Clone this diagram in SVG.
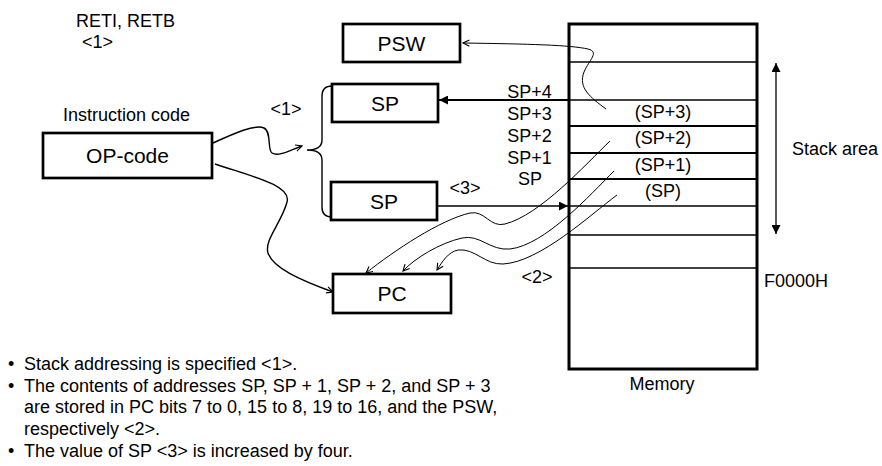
<svg xmlns="http://www.w3.org/2000/svg" width="882" height="466" viewBox="0 0 882 466">
<style>
text{font-family:"Liberation Sans",Arial,sans-serif;fill:#000}
.t{font-size:18px}
.b{font-size:21px}
.box{fill:#fff;stroke:#000;stroke-width:2.7}
.thin{stroke:#000;stroke-width:1.3;fill:none}
.thick{stroke:#000;stroke-width:2.2;fill:none}
.w{stroke:#000;stroke-width:1;fill:none}
.c{stroke:#000;stroke-width:1.4;fill:none}
</style>
<defs>
<marker id="fa" viewBox="0 0 10 10" refX="10" refY="5" markerWidth="10" markerHeight="9" markerUnits="userSpaceOnUse" orient="auto-start-reverse"><path d="M0,0 L10,5 L0,10 z" fill="#000"/></marker>
<marker id="oa" viewBox="0 0 10 10" refX="9" refY="5" markerWidth="8" markerHeight="8" markerUnits="userSpaceOnUse" orient="auto"><path d="M1,1 L9,5 L1,9" fill="none" stroke="#000" stroke-width="1.4"/></marker>
</defs>

<text class="t" x="76" y="26.5">RETI, RETB</text>
<text class="t" x="82" y="48">&lt;1&gt;</text>
<text class="t" x="63" y="121">Instruction code</text>

<g id="opcode">
<rect class="box" x="43" y="133" width="169" height="45"/>
<text class="b" x="127.5" y="162.5" text-anchor="middle">OP-code</text>
</g>
<g id="psw">
<rect class="box" x="343" y="24" width="117" height="38"/>
<text class="b" x="401.5" y="50.5" text-anchor="middle">PSW</text>
</g>
<g id="sp-top">
<rect class="box" x="332" y="84" width="106" height="38"/>
<text class="b" x="385" y="110.5" text-anchor="middle">SP</text>
</g>
<g id="sp-bottom">
<rect class="box" x="331" y="182" width="106" height="38"/>
<text class="b" x="384" y="208.5" text-anchor="middle">SP</text>
</g>
<g id="pc">
<rect class="box" x="333" y="274" width="118" height="39"/>
<text class="b" x="392" y="300.5" text-anchor="middle">PC</text>
</g>

<g id="memory">
<rect x="569" y="24" width="188" height="345" fill="#fff" stroke="#000" stroke-width="3"/>
<line class="thin" x1="569" y1="62" x2="757" y2="62"/>
<line class="thin" x1="569" y1="100" x2="757" y2="100"/>
<line class="thick" x1="569" y1="126" x2="757" y2="126"/>
<line class="thick" x1="569" y1="153" x2="757" y2="153"/>
<line class="thick" x1="569" y1="179" x2="757" y2="179"/>
<line class="thin" x1="569" y1="206" x2="757" y2="206"/>
<line class="thin" x1="569" y1="235" x2="757" y2="235"/>
<line class="thin" x1="569" y1="268" x2="757" y2="268"/>
<text class="t" x="663" y="117.5" text-anchor="middle">(SP+3)</text>
<text class="t" x="663" y="143.5" text-anchor="middle">(SP+2)</text>
<text class="t" x="663" y="170.5" text-anchor="middle">(SP+1)</text>
<text class="t" x="663" y="196.5" text-anchor="middle">(SP)</text>
<text class="t" x="662" y="390" text-anchor="middle">Memory</text>
</g>

<text class="t" x="529.5" y="98" text-anchor="middle">SP+4</text>
<text class="t" x="529.5" y="119.5" text-anchor="middle">SP+3</text>
<text class="t" x="529.5" y="141.5" text-anchor="middle">SP+2</text>
<text class="t" x="529.5" y="164" text-anchor="middle">SP+1</text>
<text class="t" x="530" y="184.5" text-anchor="middle">SP</text>
<text class="t" x="286" y="115" text-anchor="middle">&lt;1&gt;</text>
<text class="t" x="465" y="194" text-anchor="middle">&lt;3&gt;</text>
<text class="t" x="537" y="283" text-anchor="middle">&lt;2&gt;</text>
<text class="t" x="792" y="155">Stack area</text>
<text class="t" x="764" y="286.5">F0000H</text>

<g id="connectors">
<path class="thick" d="M569,100 L439,100" marker-end="url(#fa)"/>
<path class="thin" d="M437,206 L568,206" marker-end="url(#fa)"/>
<path class="thin" d="M776,63 L776,234" marker-start="url(#fa)" marker-end="url(#fa)"/>
<path class="c" d="M332,86 Q322,86 322,96 L322,140 Q322,150 307,150 Q322,150 322,160 L322,207 Q322,217 332,217"/>
<path class="c" d="M213,143 C235,133 255,124 264,128 C272,132 267,150 272,153 C279,157 290,150 302,146" marker-end="url(#oa)"/>
<path class="c" d="M215,164 C250,176 292,185 287,202 C282,222 264,240 268,253 C273,268 300,280 333,292" marker-end="url(#oa)"/>
<path class="w" d="M606,109 C590,97 578,88 584,72 C589,60 600,52 588,49 C570,45 530,44 463,43" marker-end="url(#oa)"/>
<path class="w" d="M610,141 C585,165 540,215 505,224 C490,228 485,210 470,213 C440,220 395,250 366,273" marker-end="url(#oa)"/>
<path class="w" d="M614,171 C590,195 545,245 510,249 C490,251 480,234 462,238 C440,243 415,258 403,271" marker-end="url(#oa)"/>
<path class="w" d="M617,195 C590,215 540,262 503,264 C485,265 475,248 458,250 C448,252 442,262 437,270" marker-end="url(#oa)"/>
</g>

<g id="notes" class="t">
<text class="t" x="8" y="370">•</text><text class="t" x="24" y="370">Stack addressing is specified &lt;1&gt;.</text>
<text class="t" x="8" y="392">•</text><text class="t" x="24" y="392">The contents of addresses SP, SP + 1, SP + 2, and SP + 3</text>
<text class="t" x="24" y="413">are stored in PC bits 7 to 0, 15 to 8, 19 to 16, and the PSW,</text>
<text class="t" x="24" y="435">respectively &lt;2&gt;.</text>
<text class="t" x="8" y="457">•</text><text class="t" x="24" y="457">The value of SP &lt;3&gt; is increased by four.</text>
</g>
</svg>
